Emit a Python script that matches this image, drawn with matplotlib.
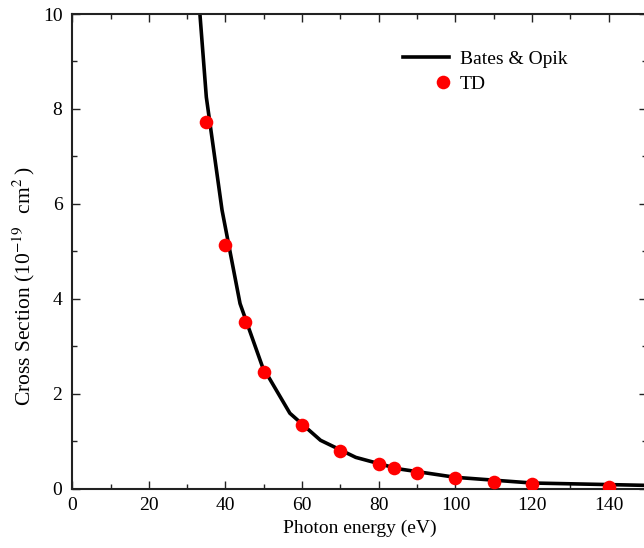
import matplotlib
matplotlib.use("Agg")
import matplotlib.pyplot as plt
from matplotlib.legend_handler import HandlerLine2D
from matplotlib.ticker import MultipleLocator

plt.rcParams["font.family"] = ["Liberation Serif", "DejaVu Serif"]
plt.rcParams["mathtext.fontset"] = "stix"

# Bates & Opik curve (photon energy in eV, cross section in 1e-19 cm^2)
energy_bo = [32.9, 35.0, 39.1, 43.8, 49.6, 56.8, 64.8, 74.0, 85.0, 100.0, 120.0, 150.0]
sigma_bo = [10.45, 8.25, 5.87, 3.90, 2.58, 1.59, 1.02, 0.66, 0.42, 0.24, 0.12, 0.07]

# TD points
energy_td = [35, 40, 45, 50, 60, 70, 80, 84, 90, 100, 110, 120, 140]
sigma_td = [7.72, 5.14, 3.52, 2.46, 1.34, 0.79, 0.51, 0.43, 0.34, 0.22, 0.15, 0.10, 0.03]


class HandlerRightDot(HandlerLine2D):
    # put the single marker at the right end of the handle
    def create_artists(self, legend, orig_handle, xdescent, ydescent,
                       width, height, fontsize, trans):
        arts = super().create_artists(legend, orig_handle, xdescent, ydescent,
                                      width, height, fontsize, trans)
        xr = width - xdescent - 0.35 * fontsize
        for a in arts:
            a.set_xdata([xr] * len(a.get_xdata()))
        return arts


fig = plt.figure(figsize=(6.44, 5.48), dpi=100)
ax = fig.add_axes([0.1121, 0.1082, 0.8926, 0.8662])

ax.plot(energy_bo, sigma_bo, color="black", lw=2.6, label="Bates & Opik", zorder=2)
td, = ax.plot(energy_td, sigma_td, ls="none", marker="o", ms=9.8, color="#ff0000",
              mec="none", label="TD", zorder=3)

ax.set_xlim(0, 150)
ax.set_ylim(0, 10)
ax.xaxis.set_major_locator(MultipleLocator(20))
ax.xaxis.set_minor_locator(MultipleLocator(10))
ax.yaxis.set_major_locator(MultipleLocator(2))
ax.yaxis.set_minor_locator(MultipleLocator(1))
ax.tick_params(which="both", direction="in", top=True, right=True, width=1.0,
               labelsize=14, color="#222222")
ax.tick_params(which="major", length=5.5)
ax.tick_params(which="minor", length=3.5)
ax.tick_params(axis="x", which="major", pad=6)
ax.tick_params(axis="y", which="major", pad=7)
for s in ax.spines.values():
    s.set_linewidth(1.5)
    s.set_color("#222222")

ax.set_xlabel("Photon energy (eV)", fontsize=14)
ax.set_ylabel(r"Cross Section (10$^{-19}$$\;\;\;$cm$^{2}$$\;$)", fontsize=15.5)
ax.yaxis.set_label_coords(-0.062, 0.428)

leg = ax.legend(handler_map={td: HandlerRightDot()}, frameon=False, fontsize=14,
                loc="upper left", bbox_to_anchor=(0.575, 0.923), borderpad=0,
                borderaxespad=0, handlelength=2.4, handletextpad=0.55,
                labelspacing=0.35)

fig.savefig("out.png", dpi=100)
